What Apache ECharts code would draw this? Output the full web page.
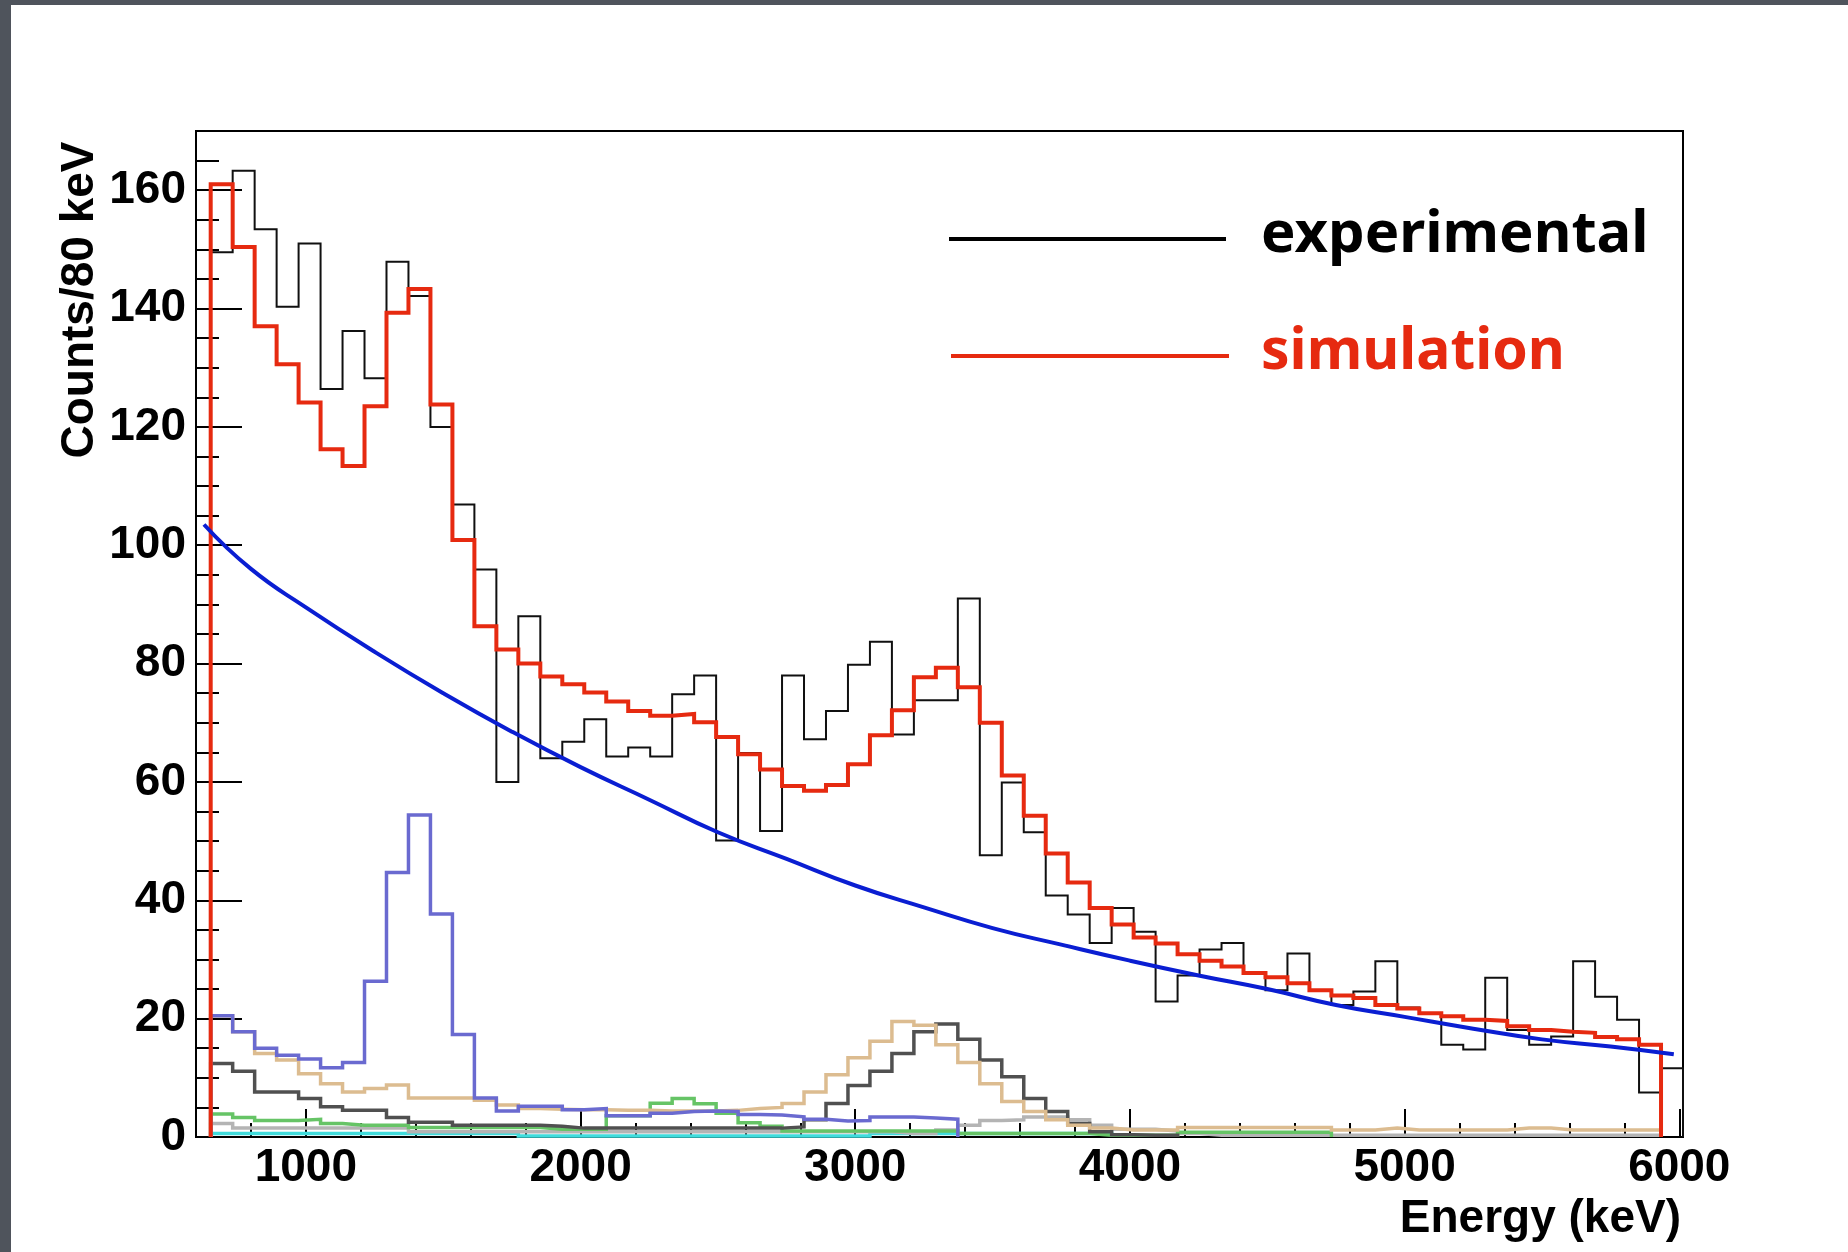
<!DOCTYPE html>
<html>
<head>
<meta charset="utf-8">
<title>Energy spectrum</title>
<script src="https://cdn.jsdelivr.net/npm/echarts@6/dist/echarts.min.js"></script>
<style>
  html, body { margin: 0; padding: 0; background: #fff; }
  #chart { width: 1848px; height: 1252px; }
</style>
</head>
<body>
<div id="chart"></div>
<script>
// histogram binning (keV)
const binStart = 653.5;
const binWidth = 80;

// counts per 80 keV bin
const experimental = [
  149.5, 163.3, 153.4, 140.3, 151.0, 126.4, 136.2, 128.2, 147.9, 142.1,
  120.0, 106.9, 95.9, 60.0, 88.0, 64.0, 66.8, 70.6, 64.3, 65.8,
  64.3, 74.8, 78.0, 50.1, 64.9, 51.7, 78.0, 67.2, 72.0, 79.8,
  83.7, 68.0, 73.8, 73.8, 91.0, 47.6, 59.9, 51.5, 40.8, 37.6,
  32.8, 38.7, 34.7, 22.9, 27.3, 31.7, 32.8, 27.8, 24.8, 31.0,
  24.8, 22.3, 24.6, 29.7, 21.9, 20.9, 15.6, 14.8, 26.9, 18.1,
  15.6, 17.0, 29.7, 23.7, 19.8, 7.5, 11.6
];
const simulation = [
  161.0, 150.4, 137.0, 130.6, 124.1, 116.2, 113.4, 123.5, 139.3, 143.3,
  123.8, 100.9, 86.3, 82.4, 80.0, 77.8, 76.5, 75.1, 73.6, 72.0,
  71.2, 71.5, 70.1, 67.6, 64.7, 62.1, 59.3, 58.5, 59.5, 63.0,
  67.9, 72.1, 77.7, 79.3, 76.0, 70.0, 61.1, 54.3, 47.9, 43.0,
  38.7, 35.9, 33.7, 32.7, 30.9, 29.8, 28.8, 27.7, 27.0, 26.0,
  24.8, 23.9, 23.5, 22.3, 21.7, 20.9, 20.4, 19.8, 19.6, 18.7,
  18.1, 17.8, 17.6, 16.9, 16.5, 15.6
];
const compPurple = [
  20.5, 17.8, 15.0, 13.8, 13.2, 11.7, 12.6, 26.3, 44.7, 54.4,
  37.7, 17.3, 6.6, 4.4, 5.2, 5.2, 4.6, 4.8, 3.6, 3.6,
  4.0, 4.3, 4.4, 4.3, 3.8, 3.7, 3.4, 3.0, 2.7, 2.8,
  3.4, 3.4, 3.2, 3.0
];
const compTan = [
  20.5, 17.8, 14.1, 13.0, 10.7, 9.0, 7.6, 8.2, 8.8, 6.6,
  6.6, 6.6, 6.2, 5.4, 4.8, 4.7, 4.6, 4.6, 4.5, 4.5,
  4.4, 4.4, 4.4, 4.5, 4.8, 5.0, 5.65, 7.6, 10.5, 13.4,
  16.2, 19.5, 18.9, 15.6, 12.6, 9.0, 6.0, 4.3, 2.9, 2.0,
  1.5, 1.2, 1.2, 1.2, 1.6, 1.6, 1.6, 1.6, 1.6, 1.6,
  1.6, 1.2, 1.2, 1.5, 1.2, 1.2, 1.2, 1.2, 1.2, 1.5,
  1.5, 1.2, 1.2, 1.2, 1.2, 1.2
];
const compDark = [
  12.4, 11.1, 7.6, 7.6, 6.5, 5.1, 4.5, 4.5, 3.3, 2.5,
  2.5, 2.0, 2.0, 2.0, 2.0, 1.8, 1.5, 1.5, 1.5, 1.5,
  1.5, 1.5, 1.5, 1.5, 1.5, 1.5, 1.7, 2.9, 5.65, 8.7,
  11.1, 14.1, 17.8, 19.1, 16.5, 13.0, 10.2, 6.5, 4.3, 2.3,
  0.9, 0.4, 0.3, 0.3
];
const compGreen = [
  3.9, 3.3, 2.8, 2.8, 3.0, 2.3, 2.0, 2.0, 2.0, 1.6,
  1.6, 1.6, 1.6, 1.6, 1.6, 1.3, 1.3, 1.3, 3.6, 3.6,
  5.7, 6.5, 5.6, 4.0, 2.4, 1.8, 1.0, 1.0, 1.0, 1.0,
  1.0, 1.0, 1.0, 1.0, 0.6, 0.6, 0.6, 0.6, 0.6, 0.6,
  0.3, 0.3, 0.3, 0.3, 0.8, 0.8, 0.8, 0.8, 0.8, 0.8,
  0.8
];
const compLightGray = [
  2.3, 1.5, 1.5, 1.5, 1.5, 1.5, 1.5, 1.5, 1.5, 0.9,
  0.9, 0.9, 0.9, 0.9, 0.9, 0.9, 0.9, 0.9, 0.9, 0.9,
  0.9, 0.9, 0.9, 0.9, 0.9, 0.9, 0.9, 0.9, 0.9, 0.9,
  0.9, 0.6, 0.6, 1.2, 2.0, 2.8, 2.9, 3.4, 3.4, 2.9,
  2.0, 1.3, 1.3, 1.0, 0.6, 0.3, 0.3, 0.3, 0.3, 0.3,
  0.3, 0.3, 0.3, 0.3, 0.3, 0.3, 0.3, 0.3, 0.3, 0.3,
  0.3, 0.3, 0.3, 0.3, 0.3, 0.3
];
const compCyan = [
  0.6, 0.6, 0.6, 0.6, 0.6, 0.6, 0.6, 0.6, 0.6, 0.6,
  0.6, 0.6, 0.6, 0.6, 0.15, 0.15, 0.15, 0.15, 0.15, 0.15,
  0.15, 0.15, 0.15, 0.15, 0.15, 0.15, 0.15, 0.15, 0.15, 0.15,
  0.6, 0.6, 0.6, 0.6, 0.6, 0.6, 0.6, 0.6, 0.6, 0.6,
  0.6
];

// smooth background fit (blue curve)
const fitEnergy = [629, 800, 1000, 1250, 1500, 1750, 2000, 2250, 2500, 2750, 3000, 3250,
  3500, 3750, 4000, 4250, 4500, 4750, 5000, 5250, 5500, 5750, 5980];
const fitCounts = [103.5, 96.0, 89.5, 82.0, 75.0, 68.5, 62.5, 57.0, 51.5, 47.0, 42.5, 38.8,
  35.3, 32.5, 29.8, 27.3, 25.0, 22.3, 20.3, 18.3, 16.5, 15.3, 14.0];

// layout
const xMin = 600, xMax = 6013.5;
const plot = { left: 196, top: 131, right: 1683, bottom: 1137 };
const W = 1848, H = 1252;
const toPx = (e) => plot.left + (e - xMin) / (xMax - xMin) * (plot.right - plot.left);

const edge = (i) => binStart + i * binWidth;
function steps(vals) {
  const pts = [[edge(0), 0]];
  vals.forEach((v, i) => { pts.push([edge(i), v], [edge(i + 1), v]); });
  pts.push([edge(vals.length), 0]);
  return pts;
}

const axisFont = { fontFamily: "Liberation Sans", fontWeight: "bold", fontSize: 46, color: "#000" };
const plain = (v) => String(v);
const RED = "#e62a10";

function hist(name, vals, color, width) {
  return {
    name, type: "line", data: steps(vals), color,
    symbol: "none", smooth: false, silent: true,
    lineStyle: { color, width, join: "miter" },
    xAxisIndex: 0, yAxisIndex: 0,
  };
}

// legend drawn by hand: ROOT-style long line + big label
function legendEntry(label, color, x1, x2, y, textY, size) {
  return [
    { type: "line", silent: true, shape: { x1, y1: y, x2, y2: y },
      style: { stroke: color, lineWidth: 4 } },
    { type: "text", silent: true, x: 1261, y: textY,
      style: { text: label, font: `bold ${size}px "Noto Sans"`, fill: color,
        textAlign: "left", textVerticalAlign: "middle" } },
  ];
}

const chart = echarts.init(document.getElementById("chart"), null, { renderer: "canvas" });

chart.setOption({
  animation: false,
  backgroundColor: "#fff",
  grid: [
    {
      left: plot.left, top: plot.top,
      width: plot.right - plot.left, height: plot.bottom - plot.top,
      show: true, borderColor: "#000", borderWidth: 2, backgroundColor: "#fff",
      containLabel: false, outerBoundsMode: "none",
    },
    {
      left: toPx(1000), top: plot.top,
      width: toPx(6000) - toPx(1000), height: plot.bottom - plot.top,
      show: false, containLabel: false, outerBoundsMode: "none",
    },
  ],
  xAxis: [
    {
      type: "value", gridIndex: 0, min: xMin, max: xMax, interval: 200,
      axisLine: { lineStyle: { color: "#000", width: 2 } },
      axisTick: { inside: true, length: 14, lineStyle: { color: "#000", width: 2 } },
      axisLabel: { show: false },
      splitLine: { show: false },
    },
    {
      type: "value", gridIndex: 1, min: 1000, max: 6000, interval: 1000,
      axisLine: { show: false },
      axisTick: { inside: true, length: 28, lineStyle: { color: "#000", width: 2 } },
      axisLabel: { ...axisFont, margin: 8, formatter: plain },
      splitLine: { show: false },
    },
  ],
  yAxis: [
    {
      type: "value", gridIndex: 0, min: 0, max: 170, interval: 5,
      axisLine: { show: true, lineStyle: { color: "#000", width: 2 } },
      axisTick: { inside: true, length: 23, lineStyle: { color: "#000", width: 2 } },
      axisLabel: { show: false },
      splitLine: { show: false },
    },
    {
      type: "value", gridIndex: 0, min: 0, max: 170, interval: 20, position: "left",
      axisLine: { show: false },
      axisTick: { inside: true, length: 46, lineStyle: { color: "#000", width: 2 } },
      axisLabel: { ...axisFont, margin: 10, showMaxLabel: false, formatter: plain },
      splitLine: { show: false },
    },
    {
      type: "value", gridIndex: 1, min: 0, max: 1, show: false,
    },
  ],
  graphic: [
    { type: "rect", shape: { x: 0, y: 0, width: 11, height: H }, style: { fill: "#4f545c" }, silent: true },
    { type: "rect", shape: { x: 0, y: 0, width: W, height: 5 }, style: { fill: "#4f545c" }, silent: true },
    {
      type: "text", x: 80, y: 300, rotation: Math.PI / 2, silent: true,
      style: { text: "Counts/80 keV", font: 'bold 46px "Liberation Sans"', fill: "#000",
        textAlign: "center", textVerticalAlign: "middle" },
    },
    {
      type: "text", x: 1681, y: 1219, silent: true,
      style: { text: "Energy (keV)", font: 'bold 46px "Liberation Sans"', fill: "#000",
        textAlign: "right", textVerticalAlign: "middle" },
    },
    ...legendEntry("experimental", "#000", 949, 1226, 239, 235, 58),
    ...legendEntry("simulation", RED, 951, 1229, 356, 353, 57),
  ],
  series: [
    hist("cyan", compCyan, "#3fdcdc", 3.5),
    hist("lightgray", compLightGray, "#b4b4b4", 3.5),
    hist("green", compGreen, "#66c466", 3.5),
    hist("darkgray", compDark, "#505050", 3.5),
    hist("tan", compTan, "#dcbc90", 3.5),
    hist("purple", compPurple, "#6a6ad0", 3.5),
    hist("experimental", experimental, "#101010", 2),
    hist("simulation", simulation, RED, 4),
    {
      name: "fit", type: "line", color: "#0a1ed2", smooth: true, symbol: "none", silent: true,
      data: fitEnergy.map((e, i) => [e, fitCounts[i]]),
      lineStyle: { color: "#0a1ed2", width: 4 },
      xAxisIndex: 0, yAxisIndex: 0,
    },
  ],
});
</script>
</body>
</html>
